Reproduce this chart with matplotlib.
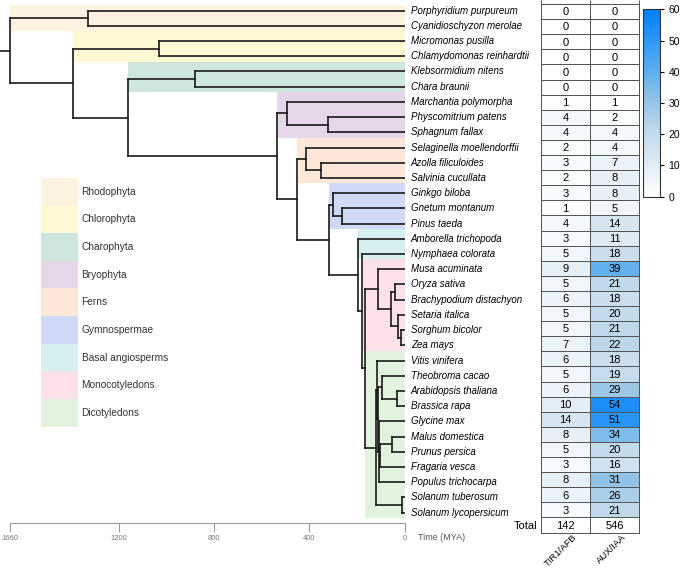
import numpy as np
import matplotlib
matplotlib.use("Agg")
import matplotlib.pyplot as plt
from matplotlib.colors import LinearSegmentedColormap, ListedColormap

plt.rcParams["font.family"] = ["Liberation Sans", "DejaVu Sans"]

# --- data -------------------------------------------------------------
species = [
    "Porphyridium purpureum", "Cyanidioschyzon merolae", "Micromonas pusilla",
    "Chlamydomonas reinhardtii", "Klebsormidium nitens", "Chara braunii",
    "Marchantia polymorpha", "Physcomitrium patens", "Sphagnum fallax",
    "Selaginella moellendorffii", "Azolla filiculoides", "Salvinia cucullata",
    "Ginkgo biloba", "Gnetum montanum", "Pinus taeda", "Amborella trichopoda",
    "Nymphaea colorata", "Musa acuminata", "Oryza sativa",
    "Brachypodium distachyon", "Setaria italica", "Sorghum bicolor", "Zea mays",
    "Vitis vinifera", "Theobroma cacao", "Arabidopsis thaliana", "Brassica rapa",
    "Glycine max", "Malus domestica", "Prunus persica", "Fragaria vesca",
    "Populus trichocarpa", "Solanum tuberosum", "Solanum lycopersicum",
]
tir1_afb = [0, 0, 0, 0, 0, 0, 1, 4, 4, 2, 3, 2, 3, 1, 4, 3, 5,
            9, 5, 6, 5, 5, 7, 6, 5, 6, 10, 14, 8, 5, 3, 8, 6, 3]
aux_iaa = [0, 0, 0, 0, 0, 0, 1, 2, 4, 4, 7, 8, 8, 5, 14, 11, 18,
           39, 21, 18, 20, 21, 22, 18, 19, 29, 54, 51, 34, 20, 16, 31, 26, 21]
totals = [142, 546]
gene_families = ["TIR1/AFB", "AUX/IAA"]

# tree topology (ints = species rows) and node ages (MYA)
tree_children = {
    "root": ["rhodo", "viridi"],
    "rhodo": [0, 1],
    "viridi": ["chloro", "strepto"],
    "chloro": [2, 3],
    "strepto": ["charo", "land"],
    "charo": [4, 5],
    "land": ["bryo", "tracheo"],
    "bryo": [6, "moss"],
    "moss": [7, 8],
    "tracheo": ["lycofern", "seed"],
    "lycofern": [9, "fern"],
    "fern": [10, 11],
    "seed": ["gymno", "angio"],
    "gymno": [12, "gnepin"],
    "gnepin": [13, 14],
    "angio": [15, "mesangio"],
    "mesangio": [16, "monodicot"],
    "monodicot": ["mono", "eudicot"],
    "mono": [17, "poaceae"],
    "poaceae": ["bop", "pacmad"],
    "bop": [18, 19],
    "pacmad": [20, "andro"],
    "andro": [21, 22],
    "eudicot": ["superrosid", "solanum"],
    "superrosid": [23, "rosid"],
    "rosid": ["malvid", "fabid"],
    "malvid": [24, "brassicaceae"],
    "brassicaceae": [25, 26],
    "fabid": [27, "rosales", 31],
    "rosales": ["rosaceae", 30],
    "rosaceae": [28, 29],
    "solanum": [32, 33],
}
node_age = {
    "root": 1660, "rhodo": 1331, "viridi": 1393, "chloro": 1031,
    "strepto": 1161, "charo": 881, "land": 535, "bryo": 493, "moss": 321,
    "tracheo": 454, "lycofern": 416, "fern": 353, "seed": 317, "gymno": 301,
    "gnepin": 262, "angio": 196, "mesangio": 178, "monodicot": 167,
    "mono": 111, "poaceae": 57, "bop": 41, "pacmad": 29, "andro": 15.5,
    "eudicot": 121, "superrosid": 117, "rosid": 111, "malvid": 97,
    "brassicaceae": 31, "fabid": 108, "rosales": 104, "rosaceae": 55,
    "solanum": 13,
}
time_ticks = [1660, 1200, 800, 400, 0]

clade_names = ["Rhodophyta", "Chlorophyta", "Charophyta", "Bryophyta", "Ferns",
               "Gymnospermae", "Basal angiosperms", "Monocotyledons",
               "Dicotyledons"]
clade_rows = [(0, 1), (2, 3), (4, 5), (6, 8), (9, 11), (12, 14), (15, 16),
              (17, 22), (23, 33)]
clade_stem = ["root", "viridi", "strepto", "land", "tracheo", "seed", "angio",
              "mesangio", "monodicot"]
clade_colors = ["#fdf1e0", "#fff8d4", "#cfe6df", "#e5d6ea", "#fde7d9",
                "#cfdbf6", "#d8eff1", "#fde1e9", "#e2f3dd"]

# --- figure -------------------------------------------------------------
W, H = 685, 568
fig = plt.figure(figsize=(W / 100, H / 100), dpi=100)


def fx(px):
    return px / W


def fy(px):
    return 1 - px / H


# tree axes: rows at y = 10.7 + 15.21 * i px
ax = fig.add_axes([0, 0, fx(404.7), 1])
ax.set_xlim(1700, 0)
ax.set_ylim(36.64, -0.70)
ax.axis("off")


def age(n):
    return 0.0 if isinstance(n, int) else node_age[n]


def node_y(n):
    if isinstance(n, int):
        return float(n)
    ys = [node_y(c) for c in tree_children[n]]
    return (min(ys) + max(ys)) / 2


line_kw = dict(color="#1a1a1a", lw=1.2, solid_capstyle="projecting")


def draw(n):
    if isinstance(n, int):
        return
    kids = tree_children[n]
    ys = [node_y(c) for c in kids]
    ax.plot([age(n), age(n)], [min(ys), max(ys)], **line_kw)
    for c, y in zip(kids, ys):
        ax.plot([age(n), age(c)], [y, y], **line_kw)
        draw(c)


# clade shading
for k, (first, last) in enumerate(clade_rows):
    top = max(first - 0.65, -0.37)
    ax.fill_between([age(clade_stem[k]), 0], top, last + 0.35,
                    color=clade_colors[k], lw=0, zorder=0)

draw("root")
ry = node_y("root")
ax.plot([1700, node_age["root"]], [ry, ry], **line_kw)

for i, name in enumerate(species):
    ax.annotate(name, xy=(0, i), xytext=(4.5, 0), textcoords="offset points",
                va="center", ha="left", fontsize=7, style="italic",
                annotation_clip=False)

# time axis
ax_t = fig.add_axes([0, fy(522.7), fx(404.7), 0.0005])
ax_t.set_xlim(1700, 0)
ax_t.patch.set_visible(False)
for s in ["top", "left", "right"]:
    ax_t.spines[s].set_visible(False)
ax_t.spines["bottom"].set_bounds(1660, 0)
ax_t.spines["bottom"].set_color("#9a9a9a")
ax_t.set_yticks([])
ax_t.set_xticks(time_ticks)
ax_t.set_xticklabels([str(t) for t in time_ticks])
ax_t.tick_params(axis="x", direction="out", length=6.5, width=0.8,
                 color="#9a9a9a", labelsize=5.5, labelcolor="#777777", pad=2)
fig.text(fx(418), fy(538), "Time (MYA)", fontsize=6.5, color="#555555",
         va="center", ha="left")

# legend
ax_l = fig.add_axes([fx(41), fy(426.7), fx(160), (426.7 - 177.7) / H])
ax_l.set_xlim(0, 160)
ax_l.set_ylim(len(clade_names) - 0.5, -0.5)
ax_l.axis("off")
ax_l.barh(range(len(clade_names)), 37, height=1.0, left=0,
          color=clade_colors, lw=0)
for k, name in enumerate(clade_names):
    ax_l.text(40.5, k, name, va="center", ha="left", fontsize=7.3,
              color="#333333")

# heatmap
cmap = LinearSegmentedColormap.from_list(
    "aux_blue",
    [(0, "#ffffff"), (0.33, "#c4dbeb"), (0.5, "#96c5e6"),
     (0.67, "#5bafef"), (1, "#0080ff")])
counts = np.column_stack([tir1_afb, aux_iaa])
n = len(species)
row_h = 15.1
top_px = 4.0
ax_h = fig.add_axes([fx(541), fy(top_px + (n + 1) * row_h), fx(639) - fx(541),
                     (top_px + (n + 1) * row_h) / H])
edge = dict(edgecolors="#555555", linewidth=0.7)
mesh = ax_h.pcolormesh(counts, cmap=cmap, vmin=0, vmax=60, **edge)
mesh.set_clip_on(False)
tot = ax_h.pcolormesh([0, 1, 2], [n, n + 1], np.zeros((1, 2)),
                      cmap=ListedColormap(["white"]), **edge)
tot.set_clip_on(False)
ax_h.vlines([0, 1, 2], -top_px / row_h, 0, colors="#555555", lw=0.7,
            clip_on=False)
ax_h.set_xlim(0, 2)
ax_h.set_ylim(n + 1, -top_px / row_h)
ax_h.axis("off")
for i in range(n):
    for j in range(2):
        ax_h.text(j + 0.5, i + 0.55, str(counts[i, j]), ha="center",
                  va="center", fontsize=8)
for j, t in enumerate(totals):
    ax_h.text(j + 0.5, n + 0.55, str(t), ha="center", va="center", fontsize=8)
ax_h.text(-0.08, n + 0.55, "Total", ha="right", va="center", fontsize=8)
for j, lab in enumerate(gene_families):
    ax_h.text(j + 0.64, n + 1.02, lab, rotation=45, ha="right", va="top",
              rotation_mode="anchor", fontsize=6.8)

# colorbar
cax = fig.add_axes([fx(642.7), fy(196.7), fx(17.3), (196.7 - 9.3) / H])
cb = fig.colorbar(mesh, cax=cax, ticks=range(0, 61, 10))
cb.ax.tick_params(labelsize=7.5, length=3, width=0.8, pad=3)
cb.outline.set_linewidth(0.8)
cb.outline.set_edgecolor("#333333")

fig.savefig("out.png", dpi=100)
